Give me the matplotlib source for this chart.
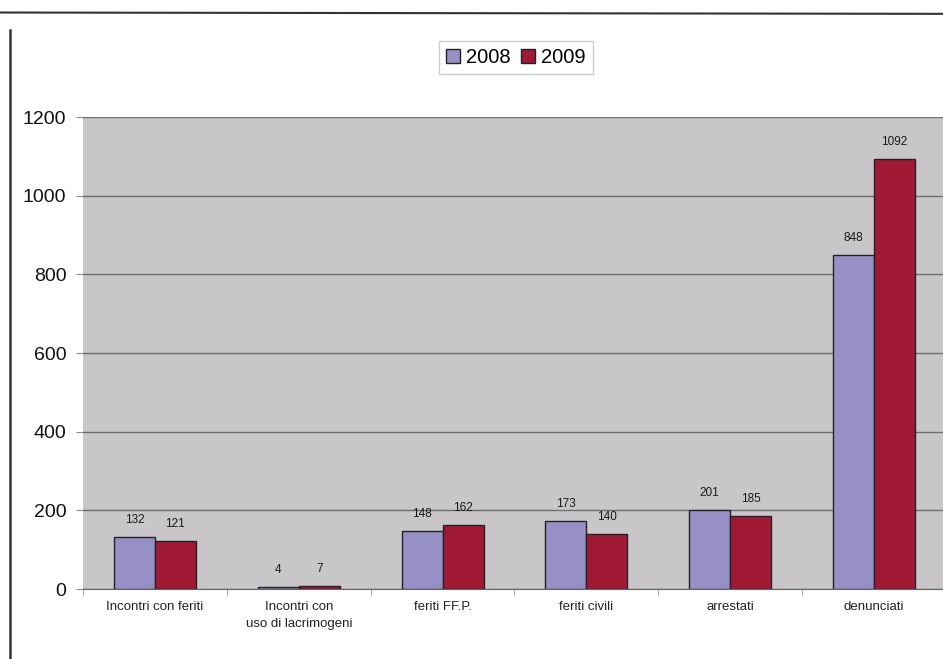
import matplotlib
matplotlib.use("Agg")
import matplotlib.pyplot as plt
from matplotlib.lines import Line2D
import numpy as np

plt.rcParams['font.family'] = ['Liberation Sans', 'DejaVu Sans']

categories = ["Incontri con feriti", "Incontri con\nuso di lacrimogeni", "feriti FF.P.",
              "feriti civili", "arrestati", "denunciati"]
values_2008 = [132, 4, 148, 173, 201, 848]
values_2009 = [121, 7, 162, 140, 185, 1092]
years = ["2008", "2009"]
yticks = [0, 200, 400, 600, 800, 1000, 1200]

col_2008 = "#9690c6"
col_2009 = "#a01a36"

fig = plt.figure(figsize=(9.43, 6.59), dpi=100)
ax = fig.add_axes([83 / 943, 70 / 659, 863 / 943, 472 / 659])
ax.set_facecolor("#c9c6c9")

x = np.arange(len(categories))
w = 0.285
b1 = ax.bar(x - w / 2, values_2008, w, color=col_2008, edgecolor="#222222", linewidth=1.0,
            label=years[0], zorder=3)
b2 = ax.bar(x + w / 2, values_2009, w, color=col_2009, edgecolor="#222222", linewidth=1.0,
            label=years[1], zorder=3)

for bars in (b1, b2):
    for r in bars:
        ax.annotate(f"{int(r.get_height())}", (r.get_x() + r.get_width() / 2, r.get_height()),
                    xytext=(0, 8), textcoords="offset points", ha="center", va="bottom",
                    fontsize=8.5, color="#1a1a1a")

ax.set_xlim(-0.5, len(categories) - 0.5)
ax.set_ylim(0, 1200)
ax.set_yticks(yticks)
ax.set_yticklabels([str(t) for t in yticks], fontsize=14, color="#111111")
ax.yaxis.grid(True, color="#6e6e6e", linewidth=1.0, zorder=0)
ax.set_axisbelow(True)
ax.set_xticks(x)
ax.set_xticklabels(categories, fontsize=9.5, color="#222222", linespacing=1.45)
ax.tick_params(axis="x", length=0, pad=9)
ax.tick_params(axis="y", length=5, color="#888888", pad=7)
ax.set_xticks(np.arange(len(categories) + 1) - 0.5, minor=True)
ax.tick_params(axis="x", which="minor", length=4, color="#999999")
for s in ("top", "right", "left"):
    ax.spines[s].set_visible(False)
ax.spines["bottom"].set_color("#666666")

fig.legend(handles=[b1, b2], labels=years, loc="center", bbox_to_anchor=(516 / 943, 0.913),
           ncol=2, frameon=True, fontsize=14.5, handlelength=0.7, handleheight=0.7,
           handletextpad=0.3, columnspacing=0.5, borderpad=0.35, fancybox=False,
           edgecolor="#c0c0c0")

# scan frame lines
fig.add_artist(Line2D([0.0, 1.0], [0.981, 0.979], color="#333333", linewidth=1.5))
fig.add_artist(Line2D([0.011, 0.011], [0.0, 0.955], color="#333333", linewidth=1.8))

fig.savefig("out.png", dpi=100)
